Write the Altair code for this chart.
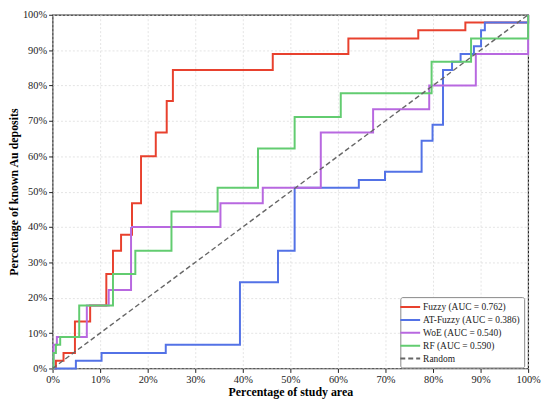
import altair as alt
import pandas as pd

names = ["Fuzzy (AUC = 0.762)", "AT-Fuzzy (AUC = 0.386)", "WoE (AUC = 0.540)",
         "RF (AUC = 0.590)", "Random"]
colors = ["#e8412e", "#5372e6", "#b868e0", "#62cc70", "#666666"]
dashes = [[1, 0], [1, 0], [1, 0], [1, 0], [5, 3]]

fuzzy_x = [0, 0.7, 2.3, 4.7, 7.9, 11.3, 12.7, 14.4, 16.7, 18.6, 21.7, 24.0, 25.3, 46.3, 62.2, 76.9, 86.8, 100]
fuzzy_y = [0, 2.2, 4.4, 13.3, 17.8, 26.7, 33.3, 37.8, 46.7, 60.0, 66.7, 75.6, 84.4, 88.9, 93.3, 95.6, 97.8, 100]

atfuzzy_x = [0, 4.9, 10.3, 23.8, 39.4, 47.4, 50.9, 64.4, 69.9, 77.6, 79.9, 82.1, 84.0, 85.8, 88.6, 90.1, 90.9, 100]
atfuzzy_y = [0, 2.2, 4.4, 6.7, 24.4, 33.3, 51.1, 53.3, 55.6, 64.4, 68.9, 84.4, 86.7, 88.9, 91.1, 95.6, 97.8, 100]

woe_x = [0, 0.2, 0.9, 7.2, 11.8, 16.5, 35.3, 44.2, 56.4, 67.4, 79.2, 89.0, 100]
woe_y = [0, 6.7, 8.9, 17.8, 22.2, 40.0, 46.7, 51.1, 66.7, 73.3, 80.0, 88.9, 100]

rf_x = [0, 0.2, 0.7, 1.6, 5.6, 12.7, 17.4, 25.0, 34.7, 43.2, 50.9, 60.6, 79.7, 88.0, 100]
rf_y = [0, 4.4, 6.7, 8.9, 17.8, 26.7, 33.3, 44.4, 51.1, 62.2, 71.1, 77.8, 86.7, 93.3, 100]

random_x = [0, 100]
random_y = [0, 100]

series = [(names[0], fuzzy_x, fuzzy_y), (names[1], atfuzzy_x, atfuzzy_y),
          (names[2], woe_x, woe_y), (names[3], rf_x, rf_y)]

FONT = "Liberation Serif"
ticks = list(range(0, 101, 10))
W, H = 480, 357

xenc = alt.X("x:Q", scale=alt.Scale(domain=[0, 100], nice=False),
             axis=alt.Axis(values=ticks, labelExpr="datum.value + '%'",
                           title="Percentage of study area"))
yenc = alt.Y("y:Q", scale=alt.Scale(domain=[0, 100], nice=False),
             axis=alt.Axis(values=ticks, labelExpr="datum.value + '%'",
                           title="Percentage of known Au deposits",
                           titleX=-39, titleY=H / 2, titleBaseline="middle",
                           titleAlign="center", titleAngle=270))
cenc = alt.Color("series:N", scale=alt.Scale(domain=names, range=colors), title=None)
denc = alt.StrokeDash("series:N", scale=alt.Scale(domain=names, range=dashes), title=None)

layers = []
for name, xs, ys in series:
    df = pd.DataFrame({"x": xs, "y": ys, "series": name})
    layers.append(
        alt.Chart(df).mark_line(interpolate="step-after", strokeWidth=2)
        .encode(x=xenc, y=yenc, color=cenc, strokeDash=denc)
    )
rdf = pd.DataFrame({"x": random_x, "y": random_y, "series": names[4]})
layers.append(
    alt.Chart(rdf).mark_line(strokeWidth=1.4)
    .encode(x=xenc, y=yenc, color=cenc, strokeDash=denc)
)

chart = alt.layer(*layers).properties(
    width=W, height=H,
    autosize=alt.AutoSizeParams(type="none"),
    padding={"left": 45, "top": 5, "right": 14, "bottom": 30},
).configure(
    background="white",
    font=FONT,
).configure_view(
    stroke="#222222", strokeWidth=1.2,
).configure_axis(
    domain=False, labelFlush=False, labelOverlap=False,
    grid=True, gridColor="#dddddd", gridDash=[2, 2], gridWidth=0.8,
    tickColor="#222222", tickSize=4, tickWidth=1,
    labelFont=FONT, labelFontSize=10.5, labelColor="#222222", labelPadding=2,
    titleFont=FONT, titleFontSize=12, titleFontWeight="bold", titleColor="#000000",
).configure_axisX(
    titlePadding=2,
).configure_legend(
    orient="none", legendX=351, legendY=285,
    fillColor="white", strokeColor="#888888", padding=4, cornerRadius=2,
    symbolType="M-2,0H2", symbolSize=100, symbolStrokeWidth=2,
    labelFont=FONT, labelFontSize=9.5, labelColor="#222222", labelOffset=7,
    rowPadding=2,
)

chart.save("out.html", embed_options={"renderer": "svg", "actions": False})
